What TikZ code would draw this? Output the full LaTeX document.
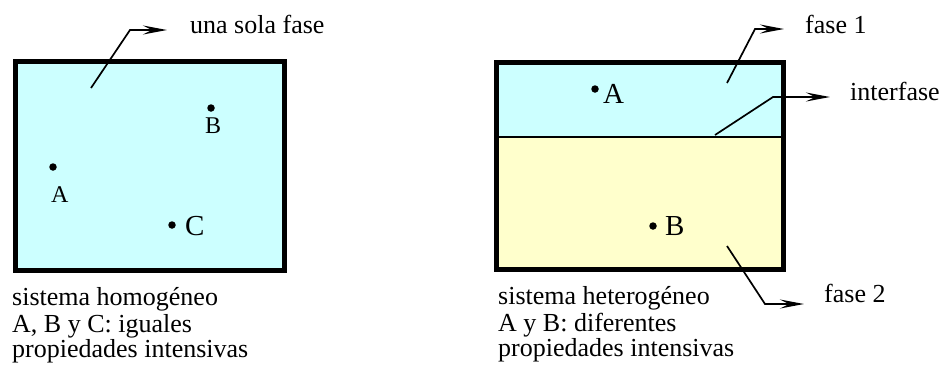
\documentclass[tikz,border=0pt]{standalone}
\usepackage{fontspec}
\setmainfont{Liberation Serif}
\usetikzlibrary{arrows.meta}
\definecolor{phaseone}{RGB}{204,255,255}
\definecolor{phasetwo}{RGB}{255,255,204}
\begin{document}
\begin{tikzpicture}[x=1pt,y=-1pt,
  txt/.style={inner sep=0pt,anchor=base west,font=\fontsize{26}{26}\selectfont},
  ptlabel/.style={inner sep=0pt,anchor=base west,font=\fontsize{24}{24}\selectfont},
  biglabel/.style={inner sep=0pt,anchor=base west,font=\fontsize{29}{29}\selectfont},
  boxborder/.style={line width=5pt,line join=miter},
  pointer/.style={line width=1.7pt,-{Stealth[length=24pt,width=9pt,inset=9pt]}},
  dotmark/.style={circle,fill=black,inner sep=0pt,minimum size=7.5pt}]
\useasboundingbox (0,0) rectangle (941,368);
% left box
\fill[phaseone] (15.5,61.5) rectangle (284.5,270.5);
\draw[boxborder] (15.5,61.5) rectangle (284.5,270.5);
% right box
\fill[phaseone] (496.5,62.5) rectangle (783.5,137);
\fill[phasetwo] (496.5,137) rectangle (783.5,269.5);
\draw[line width=2pt] (496.5,137) coordinate (ifl) -- (783.5,137) coordinate (ifr);
\draw[boxborder] (496.5,62.5) rectangle (783.5,269.5);
% points left
\node[dotmark] (dB) at (211,108) {};
\node[ptlabel] (lB) at (205,133) {B};
\node[dotmark] (dA) at (53,167) {};
\node[ptlabel] (lA) at (51,202) {A};
\node[dotmark] (dC) at (172,225) {};
\node[biglabel] (lC) at (185,235) {C};
% points right
\node[dotmark] (rdA) at (595,89) {};
\node[biglabel] (rlA) at (603,103) {A};
\node[dotmark] (rdB) at (653,226) {};
\node[biglabel] (rlB) at (665,235) {B};
% labels
\node[txt] (una) at (190,33) {una sola fase};
\node[txt] (f1) at (805,33) {fase 1};
\node[txt] (inter) at (850,100) {interfase};
\node[txt] (f2) at (824,302) {fase 2};
% pointer coordinates
\coordinate (s1) at (91,88);  \coordinate (b1) at (130,30);  \coordinate (e1) at (167,30);
\coordinate (s2) at (727,83); \coordinate (b2) at (755,29);  \coordinate (e2) at (784,29);
\coordinate (s3) at (715,135);\coordinate (b3) at (773,97);  \coordinate (e3) at (830,97);
\coordinate (s4) at (727,246);\coordinate (b4) at (765,304); \coordinate (e4) at (804,304);
\draw[pointer] (s1) -- (b1) -- (e1);
\draw[pointer] (s2) -- (b2) -- (e2);
\draw[pointer] (s3) -- (b3) -- (e3);
\draw[pointer] (s4) -- (b4) -- (e4);
% captions
\node[txt] (c1) at (12,305) {sistema homogéneo};
\node[txt] (c2) at (12,332) {A, B y C: iguales};
\node[txt] (c3) at (12,357) {propiedades intensivas};
\node[txt] (d1) at (498,304) {sistema heterogéneo};
\node[txt] (d2) at (498,331) {A y B: diferentes};
\node[txt] (d3) at (498,356) {propiedades intensivas};
\end{tikzpicture}
\end{document}
